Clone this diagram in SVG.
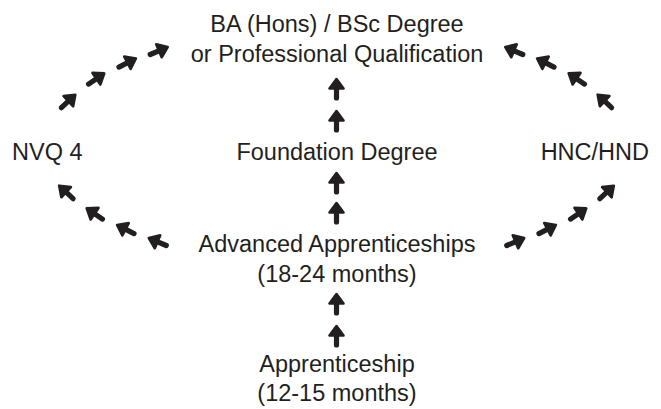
<svg xmlns="http://www.w3.org/2000/svg" width="661" height="409" viewBox="0 0 661 409">
<style>
  .t { font-family: "Liberation Sans", Arial, sans-serif; font-size: 23.5px; fill: #231f20; }
  .c { text-anchor: middle; }
  .shaft { stroke: #231f20; stroke-width: 5.2; stroke-linecap: round; fill: none; }
  .head { fill: #231f20; stroke: #231f20; stroke-width: 2.6; stroke-linejoin: round; }
</style>
<defs>
  <g id="arr">
    <line class="shaft" x1="-9" y1="0" x2="3" y2="0"/>
    <path class="head" d="M10,0 L0.5,-7 L0.5,7 Z"/>
  </g>
</defs>
<rect width="661" height="409" fill="#ffffff"/>
<g id="n-ba"><text class="t c" x="337" y="32">BA (Hons) / BSc Degree</text><text class="t c" x="337" y="62">or Professional Qualification</text></g>
<g id="n-nvq"><text class="t" x="12" y="160">NVQ 4</text></g>
<g id="n-fd"><text class="t c" x="337" y="160">Foundation Degree</text></g>
<g id="n-hnc"><text class="t" x="649" y="160" text-anchor="end">HNC/HND</text></g>
<g id="n-adv"><text class="t c" x="337" y="252">Advanced Apprenticeships</text><text class="t c" x="337" y="282">(18-24 months)</text></g>
<g id="n-app"><text class="t c" x="337" y="372">Apprenticeship</text><text class="t c" x="337" y="401">(12-15 months)</text></g>
<g id="connectors">
  <use href="#arr" transform="translate(336.5,89) rotate(-90)"/>
  <use href="#arr" transform="translate(336.5,121) rotate(-90)"/>
  <use href="#arr" transform="translate(336.5,183) rotate(-90)"/>
  <use href="#arr" transform="translate(336.5,213) rotate(-90)"/>
  <use href="#arr" transform="translate(336.5,304) rotate(-90)"/>
  <use href="#arr" transform="translate(336.5,336) rotate(-90)"/>
  <use href="#arr" transform="translate(68,101.5) rotate(-43)"/>
  <use href="#arr" transform="translate(96,79) rotate(-34)"/>
  <use href="#arr" transform="translate(127,63) rotate(-27)"/>
  <use href="#arr" transform="translate(158.5,51) rotate(-23)"/>
  <use href="#arr" transform="translate(605,101.5) rotate(-137)"/>
  <use href="#arr" transform="translate(577,79) rotate(-146)"/>
  <use href="#arr" transform="translate(546,63) rotate(-153)"/>
  <use href="#arr" transform="translate(514.5,51) rotate(-157)"/>
  <use href="#arr" transform="translate(66.5,192.5) rotate(-137)"/>
  <use href="#arr" transform="translate(95,214) rotate(-146)"/>
  <use href="#arr" transform="translate(126,229.5) rotate(-153)"/>
  <use href="#arr" transform="translate(158,242) rotate(-157)"/>
  <use href="#arr" transform="translate(606.5,192.5) rotate(-43)"/>
  <use href="#arr" transform="translate(578,214) rotate(-34)"/>
  <use href="#arr" transform="translate(547,229.5) rotate(-27)"/>
  <use href="#arr" transform="translate(515,242) rotate(-23)"/>
</g>
</svg>
